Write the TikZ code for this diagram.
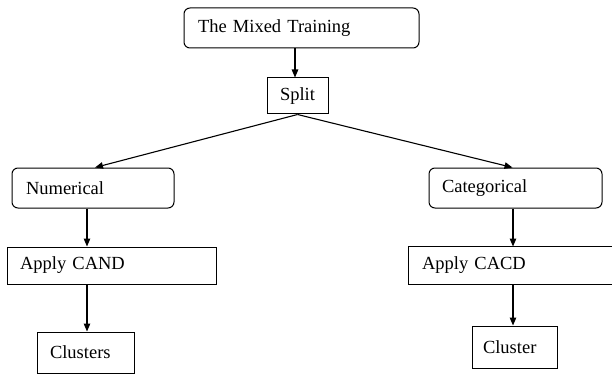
\documentclass[tikz,border=0pt]{standalone}
\usepackage{fontspec}
\setmainfont{Liberation Serif}
\usetikzlibrary{arrows.meta,calc}
\begin{document}
\begin{tikzpicture}[x=1pt,y=-1pt,
  box/.style={draw,line width=1pt,inner ysep=0pt,font=\fontsize{18.5}{22}\selectfont,align=left},
  rbox/.style={box,rounded corners=6pt},
  arr/.style={line width=1.1pt,-{Triangle[length=8pt,width=6.5pt]}},
  ln/.style={line width=1.1pt}]
\useasboundingbox (0,0) rectangle (612,374);
\node[rbox,inner xsep=14pt,text width=207pt,minimum height=40pt] (mixed) at (301.5,28) {The Mixed Training};
\node[box,inner xsep=0pt,minimum width=61pt,minimum height=36pt,align=center] (split) at (297.5,96) {Split};
\node[rbox,inner xsep=14pt,text width=134pt,minimum height=40pt] (num) at (93,188) {Numerical};
\node[box,inner xsep=13pt,text width=183pt,minimum height=37pt] (cand) at (111.5,265.5) {Apply CAND};
\node[box,inner xsep=13pt,text width=71pt,minimum height=41pt] (clusters) at (85.5,352.5) {Clusters};
\node[rbox,inner xsep=13pt,text width=147pt,minimum height=40pt] (cat) at (515.5,188) {Categorical};
\node[box,draw=none,inner xsep=13pt,text width=185pt,minimum height=37pt] (cacd) at (514.5,265.5) {Apply CACD};
\draw[line width=1pt] (cacd.north east) -- (cacd.north west) -- (cacd.south west) -- (cacd.south east);
\node[box,inner xsep=11pt,text width=63pt,minimum height=42pt] (cluster) at (514.5,347) {Cluster};
% connectors
\draw[arr] ([xshift=-6.5pt]mixed.south) -- ([xshift=-6.5pt]mixed.south |- split.north);
\draw[ln,-{Triangle[length=8pt,width=6.5pt]}] (split.south) -- ([xshift=2pt]num.north);
\draw[ln,-{Triangle[length=8pt,width=6.5pt]}] (split.south) -- ([xshift=-3pt]cat.north);
\draw[arr] ([xshift=-6pt]num.south) -- ([xshift=-6pt]num.south |- cand.north);
\draw[arr] ([xshift=-6pt]num.south |- cand.south) -- ([xshift=-6pt]num.south |- clusters.north);
\draw[arr] ([xshift=-2.5pt]cat.south) -- ([xshift=-2.5pt]cat.south |- cacd.north);
\draw[arr] ([xshift=-2.5pt]cat.south |- cacd.south) -- ([xshift=-2.5pt]cat.south |- cluster.north);
\end{tikzpicture}
\end{document}
